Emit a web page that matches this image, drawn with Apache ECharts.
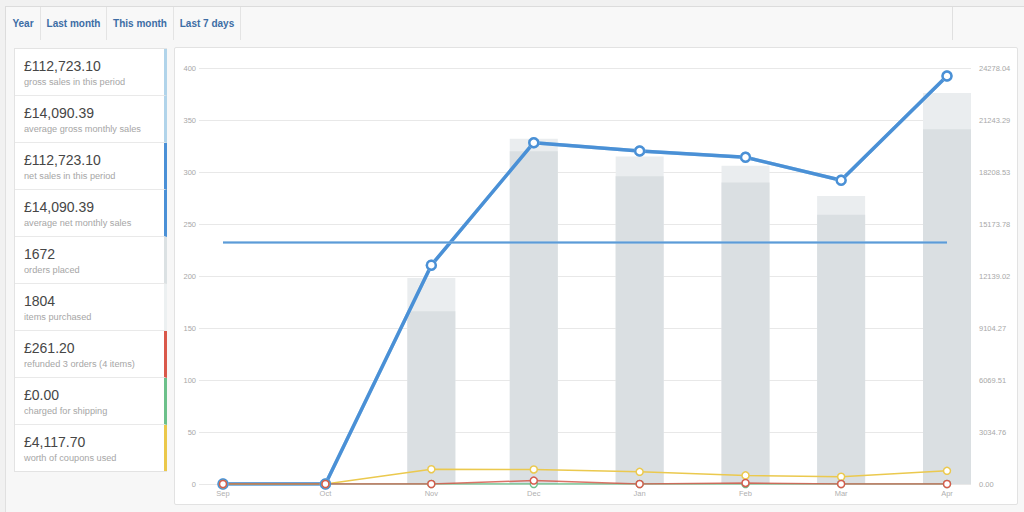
<!DOCTYPE html>
<html><head><meta charset="utf-8">
<script src="https://cdn.jsdelivr.net/npm/echarts@6/dist/echarts.min.js"></script>
<style>
html,body{margin:0;padding:0;width:1024px;height:512px;overflow:hidden;background:#f1f1f1;font-family:"Liberation Sans",Arial,Helvetica,sans-serif;}
#tabs{position:absolute;left:5px;top:6px;width:1030px;height:33px;background:#f8f8f8;border:1px solid #dcdcdc;}
.tab{position:absolute;top:0;height:33px;line-height:33px;text-align:center;font-weight:bold;font-size:10px;color:#3d6da5;border-right:1px solid #e4e4e4;}
#main{position:absolute;left:5px;top:40px;width:1030px;height:480px;background:#f7f7f7;border-left:1px solid #e0e0e0;}
#list{position:absolute;left:14px;top:48px;width:152px;background:#fff;border:1px solid #e3e3e3;border-right:none;}
.item{position:relative;height:46px;border-bottom:1px solid #e9e9e9;border-right:3px solid #ccc;box-sizing:content-box;}
.item:last-child{border-bottom:none;}
.val{position:absolute;left:9px;top:9px;font-size:14px;color:#464646;line-height:16px;white-space:nowrap;}
.lab{position:absolute;left:9px;top:28px;font-size:9.2px;color:#a6a6a6;line-height:11px;white-space:nowrap;}
#panel{position:absolute;left:174px;top:47px;width:842px;height:456px;background:#fff;border:1px solid #e2e2e2;border-radius:2px;}
#chart{position:absolute;left:0;top:0;width:842px;height:456px;}
</style></head>
<body>
<div id="tabs"></div>
<div id="main"></div>
<div id="list"></div>
<div id="panel"><div id="chart"></div></div>
<script>
// ---- data ----
const tabLabels = ['Year', 'Last month', 'This month', 'Last 7 days'];
const summaryValues = ['£112,723.10', '£14,090.39', '£112,723.10', '£14,090.39', '1672', '1804', '£261.20', '£0.00', '£4,117.70'];
const summaryLabels = ['gross sales in this period', 'average gross monthly sales', 'net sales in this period', 'average net monthly sales', 'orders placed', 'items purchased', 'refunded 3 orders (4 items)', 'charged for shipping', 'worth of coupons used'];
const summaryColors = ['#b1d4ea', '#b1d4ea', '#4a90d6', '#4a90d6', '#dbe1e3', '#ecf0f1', '#d9584a', '#6cc08a', '#ebc84a'];

const months = ['2017-09-01', '2017-10-01', '2017-11-01', '2017-12-01', '2018-01-01', '2018-02-01', '2018-03-01', '2018-04-01'];
const itemsPurchased = [0, 0, 198, 332, 315, 306, 277, 376];
const ordersPlaced = [0, 0, 166, 320, 296, 290, 259, 341];
const grossSales = [0, 0, 12770, 19919, 19434, 19067, 17724, 23809.1];
const netSales = [0, 0, 12770, 19919, 19434, 19067, 17724, 23809.1];
const averageGross = 14090.39;
const averageNet = 14090.39;
const couponAmounts = [0, 0, 864, 849, 711, 502, 423, 768.7];
const shippingAmounts = [0, 0, 0, 0, 0, 0, 0, 0];
const refundAmounts = [0, 0, 0, 200, 0, 61.2, 0, 0];

const leftMax = 400, leftInterval = 50;
const rightMax = 24278.04;
const rightTickLabels = ['0.00', '3034.76', '6069.51', '9104.27', '12139.02', '15173.78', '18208.53', '21243.29', '24278.04'];
const xMin = '2017-09-01', xMax = '2018-04-01';

// ---- page chrome ----
const tabWidths = [35, 66, 67, 67];
let tx = 0, tabsHtml = '';
tabLabels.forEach((t, i) => { tabsHtml += `<div class="tab" style="left:${tx}px;width:${tabWidths[i] - 1}px">${t}</div>`; tx += tabWidths[i]; });
tabsHtml += `<div style="position:absolute;left:946px;top:0;width:1px;height:33px;background:#e0e0e0"></div>`;
document.getElementById('tabs').innerHTML = tabsHtml;
document.getElementById('list').innerHTML = summaryValues.map((v, i) =>
  `<div class="item" style="border-right-color:${summaryColors[i]}"><div class="val">${v}</div><div class="lab">${summaryLabels[i]}</div></div>`).join('');

// ---- chart ----
const pairs = arr => months.map((m, i) => [m, arr[i]]);
const lineSeries = (name, arr, color, width, size, border, extra) => Object.assign({
  name, type: 'line', yAxisIndex: 1, data: pairs(arr), symbol: 'circle', symbolSize: size,
  showAllSymbol: true,
  lineStyle: { color, width }, itemStyle: { color: '#fff', borderColor: color, borderWidth: border },
  emphasis: { disabled: true }, animation: false
}, extra || {});

const chart = echarts.init(document.getElementById('chart'), null, { renderer: 'svg' });
chart.setOption({
  animation: false,
  grid: { left: 24, top: 20, width: 772, height: 416, containLabel: false },
  xAxis: {
    type: 'time', min: xMin, max: xMax, splitNumber: 8,
    axisLine: { show: false }, axisTick: { show: false }, splitLine: { show: false },
    axisLabel: { formatter: '{MMM}', color: '#b0b0b0', fontSize: 7.5, margin: 5, fontFamily: 'Liberation Sans' }
  },
  yAxis: [
    { type: 'value', min: 0, max: leftMax, interval: leftInterval,
      axisLine: { show: false }, axisTick: { show: false },
      splitLine: { lineStyle: { color: '#e8e8e8', width: 1 } },
      axisLabel: { color: '#a8a8a8', fontSize: 7.5, margin: 3, fontFamily: 'Liberation Sans' } },
    { type: 'value', min: 0, max: rightMax, interval: rightMax / 8,
      axisLine: { show: false }, axisTick: { show: false }, splitLine: { show: false },
      axisLabel: { color: '#a8a8a8', fontSize: 7.5, margin: 8, fontFamily: 'Liberation Sans',
        formatter: v => rightTickLabels[Math.round(v / (rightMax / 8))] } }
  ],
  series: [
    { name: 'items purchased', type: 'bar', data: pairs(itemsPurchased), barWidth: 48,
      itemStyle: { color: '#eaedef' }, emphasis: { disabled: true } },
    { name: 'orders placed', type: 'bar', data: pairs(ordersPlaced), barWidth: 48, barGap: '-100%',
      itemStyle: { color: '#dadfe2' }, emphasis: { disabled: true } },
    lineSeries('gross sales', grossSales, '#b1d4ea', 3.5, 9, 2.5),
    lineSeries('net sales', netSales, '#4a90d6', 3.5, 9, 2.5),
    { name: 'average gross', type: 'line', yAxisIndex: 1, data: pairs(months.map(() => averageGross)),
      showSymbol: false, lineStyle: { color: '#b1d4ea', width: 2 }, emphasis: { disabled: true } },
    { name: 'average net', type: 'line', yAxisIndex: 1, data: pairs(months.map(() => averageNet)),
      showSymbol: false, lineStyle: { color: '#5c9bd8', width: 2 }, emphasis: { disabled: true } },
    lineSeries('coupons', couponAmounts, '#ebc94e', 1.5, 7, 1.5),
    lineSeries('shipping', shippingAmounts, '#6cc08a', 1.5, 7, 1.5),
    lineSeries('refunds', refundAmounts, '#d65b4c', 1.5, 7, 1.5, { lineStyle: { color: '#d65b4c', width: 1.5, opacity: 0.85 } })
  ]
});
</script>
</body></html>
